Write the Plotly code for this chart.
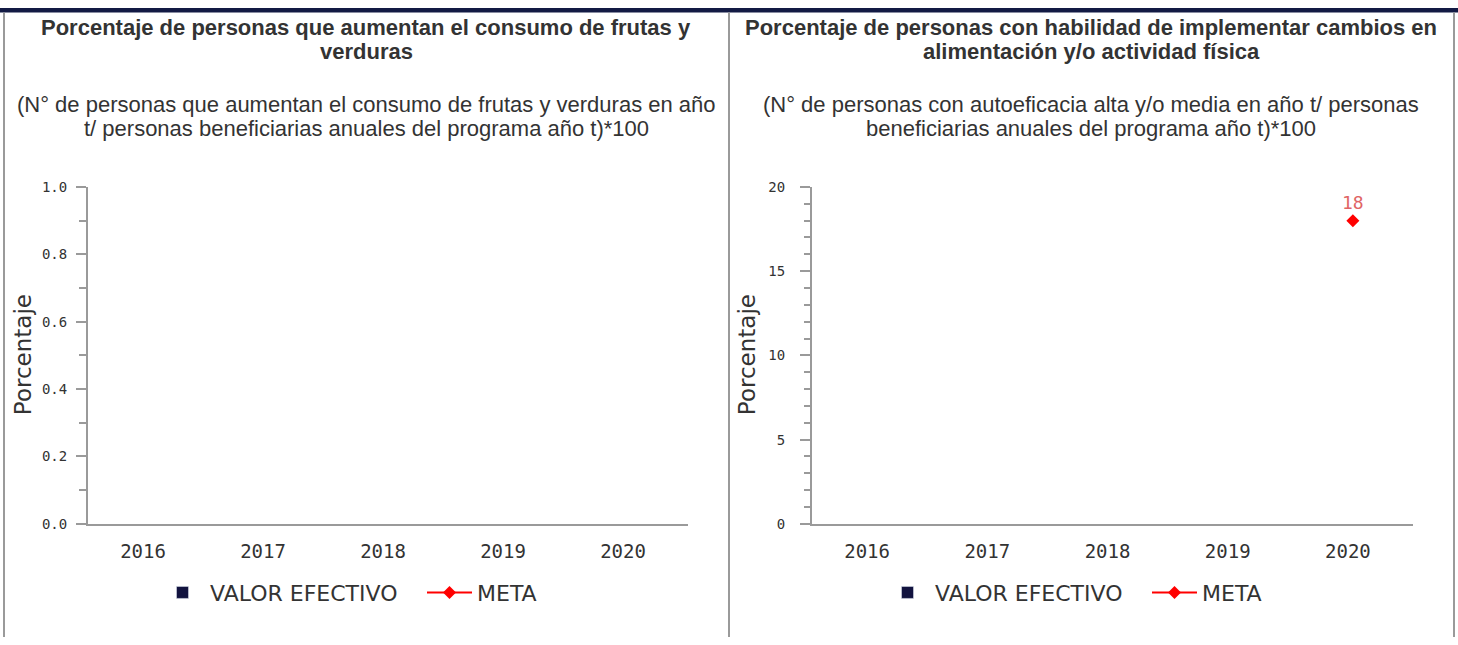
import plotly.graph_objects as go

W, H = 1458, 645

# ---- data ----
years = ["2016", "2017", "2018", "2019", "2020"]
valor_efectivo_1 = [None, None, None, None, None]
meta_1 = [None, None, None, None, None]
valor_efectivo_2 = [None, None, None, None, None]
meta_2 = [None, None, None, None, 18]

titles = [
    ["Porcentaje de personas que aumentan el consumo de frutas y", "verduras"],
    ["Porcentaje de personas con habilidad de implementar cambios en", "alimentación y/o actividad física"],
]
subtitles = [
    ["(N° de personas que aumentan el consumo de frutas y verduras en año",
     "t/ personas beneficiarias anuales del programa año t)*100"],
    ["(N° de personas con autoeficacia alta y/o media en año t/ personas",
     "beneficiarias anuales del programa año t)*100"],
]
y_title = "Porcentaje"
series_names = ["VALOR EFECTIVO", "META"]

NAVY = "#12133f"
RED = "#ff0000"
GRAY = "#9a9a9a"
TXT = "#333333"


def fx(p):
    return p / W


def fy(p):
    return 1 - p / H


fig = go.Figure()

panels = [
    dict(xa="x", ya="y", lg="legend", ve=valor_efectivo_1, meta=meta_1),
    dict(xa="x2", ya="y2", lg="legend2", ve=valor_efectivo_2, meta=meta_2),
]
anns = []
for p in panels:
    fig.add_trace(go.Bar(x=years, y=p["ve"], name=series_names[0], marker_color=NAVY,
                         xaxis=p["xa"], yaxis=p["ya"], legend=p["lg"]))
    fig.add_trace(go.Scatter(x=years, y=p["meta"], name=series_names[1], mode="lines+markers",
                             line=dict(color=RED, width=2),
                             marker=dict(symbol="diamond", size=10, color=RED),
                             xaxis=p["xa"], yaxis=p["ya"], legend=p["lg"]))
    for k, yv in enumerate(p["meta"]):
        if yv is not None:
            anns.append(dict(x=k, y=yv, xref=p["xa"], yref=p["ya"], text=str(yv),
                             showarrow=False, yshift=18, xanchor="center", yanchor="middle",
                             font=dict(family="DejaVu Sans Mono", size=18, color="#e06464")))

axis_common_x = dict(type="category", categoryorder="array", categoryarray=years,
                     range=[-0.5, 4.5], showline=True, linecolor=GRAY, linewidth=2,
                     ticks="", showgrid=False, zeroline=False, fixedrange=True,
                     tickfont=dict(family="DejaVu Sans Mono", size=19, color=TXT),
                     ticklabelshift=-5, ticklabelstandoff=9)
y_common = dict(showline=True, linecolor=GRAY, linewidth=2, ticks="outside", ticklen=10,
                tickcolor=GRAY, tickwidth=2, showgrid=False, zeroline=False, fixedrange=True,
                tickfont=dict(family="DejaVu Sans Mono", size=14, color=TXT),
                domain=[fy(529), fy(183.5)])

legend_common = dict(orientation="h", xanchor="left", y=fy(599.5), yanchor="middle",
                     font=dict(family="DejaVu Sans", size=22, color=TXT), itemwidth=45,
                     entrywidth=207, entrywidthmode="pixels",
                     bgcolor="rgba(0,0,0,0)", itemclick=False, itemdoubleclick=False)

fig.update_layout(
    width=W, height=H, margin=dict(l=0, r=0, t=0, b=0),
    paper_bgcolor="white", plot_bgcolor="white", barmode="group",
    xaxis=dict(domain=[fx(88), fx(688)], anchor="y", **axis_common_x),
    xaxis2=dict(domain=[fx(812), fx(1413)], anchor="y2", **axis_common_x),
    yaxis=dict(anchor="x", range=[0, 1], tick0=0, dtick=0.2, tickformat=".1f",
               minor=dict(dtick=0.1, ticks="outside", ticklen=7, tickcolor=GRAY, tickwidth=2),
               ticklabelstandoff=6, **y_common),
    yaxis2=dict(anchor="x2", range=[0, 20], tick0=0, dtick=5,
                minor=dict(dtick=1, ticks="outside", ticklen=6, tickcolor=GRAY, tickwidth=2),
                ticklabelstandoff=12, **y_common),
    legend=dict(x=fx(155), **legend_common),
    legend2=dict(x=fx(880), **legend_common),
    showlegend=True,
)

# panel frame and top band
shapes = [
    dict(type="rect", xref="paper", yref="paper", x0=0, x1=1, y0=fy(4.5), y1=1,
         fillcolor="#131a44", line=dict(width=0)),
]
for xp in [4, 729, 1454]:
    shapes.append(dict(type="line", xref="paper", yref="paper", x0=fx(xp), x1=fx(xp),
                       y0=0, y1=fy(4.5), line=dict(color=GRAY, width=2)))
fig.update_layout(shapes=shapes)

centers = [366, 1091]
axis_title_x = [23, 747]
title_rows = [20, 44.5]
subtitle_rows = [98.5, 124]
for i in range(2):
    for j, line in enumerate(titles[i]):
        anns.append(dict(text="<b>" + line + "</b>", x=fx(centers[i]), y=fy(title_rows[j]),
                         xref="paper", yref="paper", xanchor="center", yanchor="middle",
                         showarrow=False,
                         font=dict(family="Liberation Sans", size=22, color=TXT)))
    for j, line in enumerate(subtitles[i]):
        anns.append(dict(text=line, x=fx(centers[i]), y=fy(subtitle_rows[j]),
                         xref="paper", yref="paper", xanchor="center", yanchor="middle",
                         showarrow=False,
                         font=dict(family="Liberation Sans", size=22, color=TXT)))
    anns.append(dict(text=y_title, x=fx(axis_title_x[i]), y=fy(356), xref="paper", yref="paper",
                     xanchor="center", yanchor="middle", textangle=-90, showarrow=False,
                     font=dict(family="DejaVu Sans", size=23, color=TXT)))
fig.update_layout(annotations=anns)

fix_css = (
    "var s=document.createElement('style');"
    "s.textContent='html,body{margin:0!important;padding:0!important;overflow:hidden;}"
    ".plotly-graph-div{position:fixed!important;top:0;left:0;}';"
    "document.head.appendChild(s);"
)
fig.write_html("out.html", post_script=fix_css, config={"displayModeBar": False})
